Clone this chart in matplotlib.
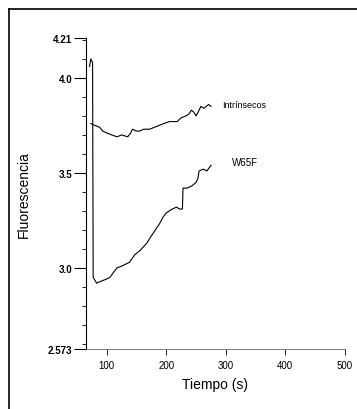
import matplotlib.pyplot as plt
from matplotlib.lines import Line2D
from matplotlib.ticker import FixedLocator

plt.rcParams['font.family'] = ['Liberation Sans', 'DejaVu Sans']

# readings taken off the scanned figure
t_intr = [73, 80, 88, 93, 100, 108, 117, 125, 135, 140, 143, 150, 155, 162,
          172, 180, 188, 196, 205, 212, 218, 225, 233, 238, 242, 246, 250,
          255, 258, 263, 267, 271, 275]
f_intr = [3.76, 3.75, 3.74, 3.72, 3.71, 3.70, 3.69, 3.70, 3.69, 3.71, 3.73,
          3.72, 3.72, 3.73, 3.73, 3.74, 3.75, 3.76, 3.77, 3.77, 3.77, 3.79,
          3.80, 3.81, 3.83, 3.82, 3.80, 3.83, 3.85, 3.84, 3.85, 3.86, 3.85]

t_w65f = [71, 73, 76, 77, 83, 90, 98, 105, 112, 117, 125, 138, 147, 155, 167,
          175, 188, 195, 200, 210, 217, 222, 227, 228, 235, 242, 250, 253,
          255, 262, 268, 275]
f_w65f = [4.06, 4.10, 4.08, 2.95, 2.92, 2.93, 2.94, 2.95, 2.98, 3.00, 3.01,
          3.03, 3.07, 3.09, 3.13, 3.17, 3.23, 3.27, 3.29, 3.31, 3.32, 3.31,
          3.31, 3.42, 3.42, 3.43, 3.45, 3.47, 3.51, 3.52, 3.51, 3.54]

x_ticks = [100, 200, 300, 400, 500]
y_major = [2.573, 3.0, 3.5, 4.0, 4.21]
y_labels = ['2.573', '3.0', '3.5', '4.0', '4.21']
y_minor = [2.6, 2.7, 2.8, 2.9, 3.1, 3.2, 3.3, 3.4, 3.6, 3.7, 3.8, 3.9, 4.1, 4.2]

fig = plt.figure(figsize=(3.57, 4.10), dpi=100)
ax = fig.add_axes([0.241, 0.146, 0.725, 0.759])

ax.plot(t_intr, f_intr, color='black', lw=0.8)
ax.plot(t_w65f, f_w65f, color='black', lw=0.8)

ax.set_xlim(65, 500)
ax.set_ylim(2.573, 4.21)

ax.spines['top'].set_visible(False)
ax.spines['right'].set_visible(False)
ax.spines['left'].set_linewidth(0.8)
ax.spines['bottom'].set_linewidth(0.6)
ax.spines['bottom'].set_color('#666666')

ax.set_xticks(x_ticks)
ax.set_xticklabels([str(v) for v in x_ticks], fontsize=7)
ax.tick_params(axis='x', direction='out', length=4, width=0.6, pad=4)

ax.yaxis.set_major_locator(FixedLocator(y_major))
ax.set_yticklabels(y_labels, fontsize=7, fontweight='bold')
ax.yaxis.set_minor_locator(FixedLocator(y_minor))
ax.tick_params(axis='y', which='major', direction='out', length=9, width=0.8, pad=1)
ax.tick_params(axis='y', which='minor', direction='out', length=3, width=0.6)

ax.text(293, 3.86, 'Intrínsecos', fontsize=6.5, va='center', ha='left')
ax.text(310, 3.56, 'W65F', fontsize=7, va='center', ha='left')

ax.set_ylabel('Fluorescencia', fontsize=10, labelpad=12)
ax.set_xlabel('Tiempo (s)', fontsize=10, labelpad=5)

# scanned page frame: only top and left edges show
fig.add_artist(Line2D([0.025, 1.0], [0.976, 0.976], transform=fig.transFigure,
                      color='black', lw=1.2))
fig.add_artist(Line2D([0.025, 0.025], [0.0, 0.976], transform=fig.transFigure,
                      color='black', lw=1.2))

fig.savefig('out.png', dpi=100)
